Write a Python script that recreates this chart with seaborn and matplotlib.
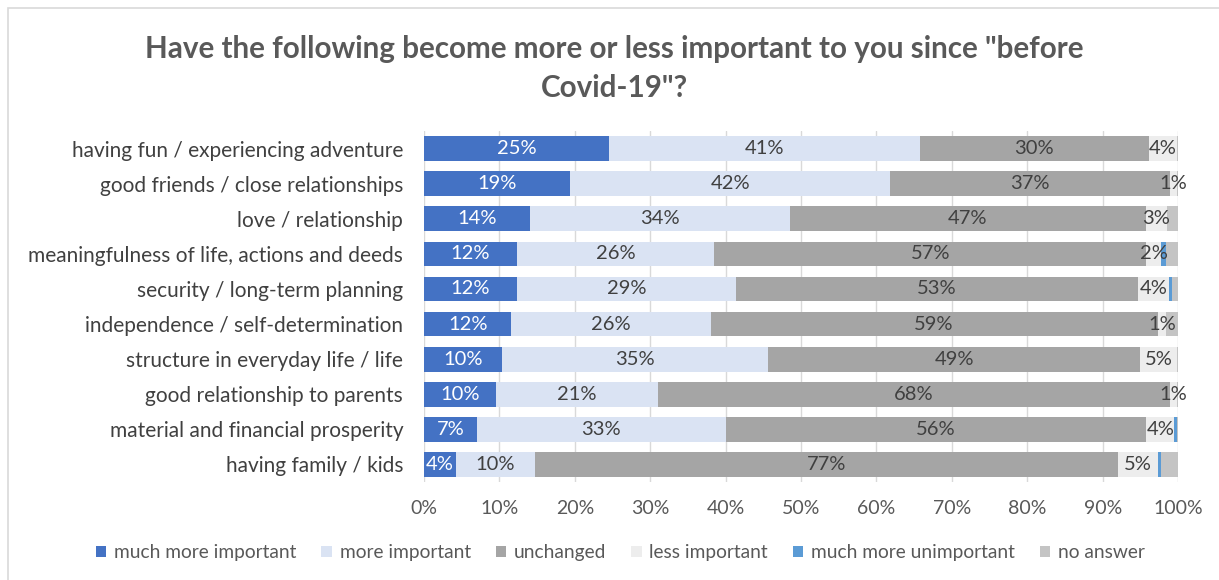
import numpy as np
import pandas as pd
import seaborn as sns
import matplotlib
matplotlib.use("Agg")
import matplotlib.pyplot as plt
from matplotlib.patches import Patch, Rectangle

# Survey items (top to bottom)
items = [
    "having fun / experiencing adventure",
    "good friends / close relationships",
    "love / relationship",
    "meaningfulness of life, actions and deeds",
    "security / long-term planning",
    "independence / self-determination",
    "structure in everyday life / life",
    "good relationship to parents",
    "material and financial prosperity",
    "having family / kids",
]

# Answer shares in percent, one list per answer category
much_more_important = [24.6, 19.4, 14.1, 12.3, 12.3, 11.6, 10.4, 9.6, 7.0, 4.3]
more_important = [41.2, 42.4, 34.4, 26.2, 29.1, 26.4, 35.2, 21.4, 33.0, 10.4]
unchanged = [30.3, 37.1, 47.2, 57.3, 53.3, 59.3, 49.4, 67.9, 55.8, 77.4]
less_important = [3.7, 0.9, 2.8, 1.9, 4.1, 1.1, 4.8, 0.9, 3.7, 5.2]
much_more_unimportant = [0.0, 0.0, 0.0, 0.7, 0.4, 0.0, 0.0, 0.0, 0.4, 0.4]
no_answer = [0.2, 0.2, 1.5, 1.6, 0.8, 1.6, 0.2, 0.2, 0.1, 2.3]

series_names = ["much more important", "more important", "unchanged",
                "less important", "much more unimportant", "no answer"]
series_values = [much_more_important, more_important, unchanged,
                 less_important, much_more_unimportant, no_answer]
series_colors = ["#4472C4", "#DAE3F3", "#A5A5A5", "#EDEDED", "#5B9BD5", "#C4C4C4"]
label_colors = ["white", "#404040", "#404040", "#404040", None, None]

x_ticks = [0, 10, 20, 30, 40, 50, 60, 70, 80, 90, 100]
x_tick_labels = [f"{t}%" for t in x_ticks]

title_text = 'Have the following become more or less important to you since "before\nCovid-19"?'

sns.set_theme(style="white")
plt.rcParams["font.family"] = ["Lato", "DejaVu Sans"]

df = pd.DataFrame({"item": items})
for name, vals in zip(series_names, series_values):
    df[name] = vals
cum = df[series_names].cumsum(axis=1)

fig = plt.figure(figsize=(12.19, 5.80), dpi=100)
ax = fig.add_axes([0.3478, 0.1698, 0.6186, 0.6035])

# Stack by overdrawing cumulative totals from the outermost segment inward
for name, color in reversed(list(zip(series_names, series_colors))):
    sns.barplot(data=cum.assign(item=items), x=name, y="item", order=items,
                orient="h", color=color, width=0.714, saturation=1,
                linewidth=0, ax=ax, zorder=3)

# Segment labels for the first four answer categories
for i, item in enumerate(items):
    left = 0.0
    for name, vals, lc in zip(series_names, series_values, label_colors):
        v = vals[i]
        if lc is not None:
            ax.text(left + v / 2, i, f"{v:.0f}%", ha="center", va="center",
                    fontsize=14.5, color=lc, zorder=5)
        left += v

ax.set_xlim(0, 100)
ax.set_ylim(len(items) - 0.5, -0.5)
ax.set_xticks(x_ticks)
ax.set_xticklabels(x_tick_labels)
ax.set_xlabel("")
ax.set_ylabel("")
ax.tick_params(axis="x", length=0, pad=13, labelsize=14, labelcolor="#595959")
ax.tick_params(axis="y", length=0, pad=15, labelsize=15, labelcolor="#404040")
ax.grid(axis="x", color="#D9D9D9", linewidth=1, zorder=0)
ax.grid(axis="y", visible=False)
ax.set_axisbelow(True)
for s in ax.spines.values():
    s.set_visible(False)

fig.text(0.504, 0.882, title_text, ha="center", va="center", fontsize=21.3,
         fontweight="bold", color="#595959", linespacing=1.45)

handles = [Patch(facecolor=c, edgecolor="none", label=n)
           for n, c in zip(series_names, series_colors)]
fig.legend(handles=handles, loc="center", bbox_to_anchor=(0.509, 0.047), ncol=6,
           frameon=False, fontsize=13.8, handlelength=0.55, handleheight=0.55,
           handletextpad=0.4, columnspacing=1.3, labelcolor="#595959")

# Chart-area border
fig.patches.append(Rectangle((8 / 1219, -0.1), 1.2, 1 - 8 / 580 + 0.1,
                             transform=fig.transFigure, fill=False,
                             edgecolor="#D9D9D9", linewidth=1.2))

fig.savefig("out.png", dpi=100)
